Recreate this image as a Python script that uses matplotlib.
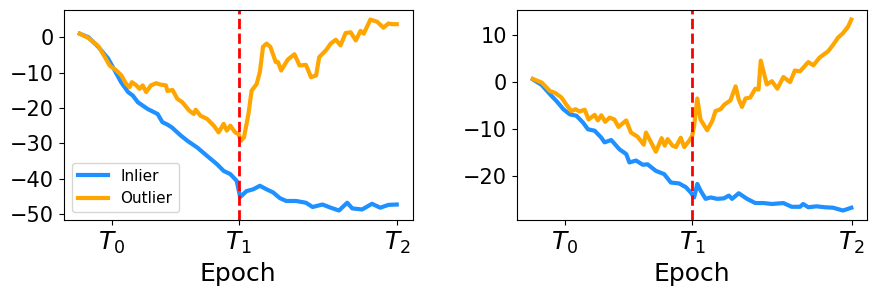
import matplotlib
matplotlib.use("Agg")
import matplotlib.pyplot as plt

# ---- Left panel data ----
left_inlier_x = [0, 2.7, 5.8, 8.9, 11, 13, 15.2, 16.7, 18.3, 21.4, 24.5, 26, 27.6, 29, 31.8, 33.9, 37, 40, 43.2,
                 45.3, 47.4, 49.4, 50.5, 52.5, 54.6, 56.7, 58.8, 60.9, 63, 65, 68.1, 71.2, 73.3, 76.4, 79, 81.6,
                 84.2, 85.8, 88.9, 92, 94.6, 97.2, 99.8]
left_inlier_y = [1.0, 0, -2.7, -6, -9.4, -12.7, -15.5, -16.5, -18.4, -20.3, -21.7, -24, -24.7, -25.5, -27.8, -29.3,
                 -31.2, -33.5, -35.9, -37.8, -38.7, -40.6, -45.2, -43.5, -43, -42, -43, -43.9, -45.5, -46.3, -46.3,
                 -46.8, -48, -47.3, -48.2, -49, -46.8, -48.4, -48.7, -47.1, -48.2, -47.4, -47.3]

left_outlier_x = [0, 2.7, 5.8, 7.9, 9.4, 11.5, 13.1, 14.6, 15.7, 16.4, 17.8, 18.8, 19.8, 20.9, 22.4, 24, 25.5, 27.1,
                  27.6, 29.2, 30.7, 32.3, 34.4, 35.9, 36.5, 38, 40.1, 42.2, 43.7, 45.3, 46.3, 47.4, 48.9, 50, 50.7,
                  51.7, 53.1, 54.1, 55.7, 56.7, 57.7, 58.8, 60, 61.7, 62.4, 63.4, 65.5, 67.6, 69.2, 71.2, 72.8,
                  74.4, 75.4, 77.5, 79, 80.6, 82.1, 83.7, 85.3, 86.9, 88.4, 89.4, 91.5, 93.6, 95.6, 97.2, 98.2, 99.8]
left_outlier_y = [1, -0.2, -2.5, -5.6, -8, -9.4, -10.8, -13.2, -14.1, -12.7, -13.6, -14.6, -13.6, -15.5, -13.6, -13,
                  -13.4, -13.6, -15.2, -14.9, -17.4, -18.4, -20.7, -21.7, -20.5, -22.2, -23.1, -25, -26.9, -24.5,
                  -26.4, -25, -26.9, -27.4, -29.3, -28.3, -21.7, -15.1, -13.2, -9.8, -2.7, -1.8, -2.7, -7, -7, -9.4,
                  -6.3, -4.8, -8, -7.8, -11.3, -10.8, -5.6, -3.7, -1.8, -0.7, -2.3, 1.2, 1.4, -0.9, 1.8, 1, 5, 4.4,
                  2.7, 3.9, 3.7, 3.7]

# ---- Right panel data ----
right_inlier_x = [0, 2.8, 5.4, 7.5, 9.6, 11.6, 13.7, 15.8, 17.3, 19.4, 21.5, 22.5, 24.6, 27.2, 29.3, 30.3, 32.4,
                  34.5, 36, 38.6, 41.2, 43.3, 45.9, 48, 49.5, 50.6, 51.6, 52.6, 54.2, 55.8, 57.8, 59.9, 61.5, 62.5,
                  64.6, 67.2, 69.8, 72.4, 75, 78.6, 81.2, 83.8, 84.8, 86.4, 89, 91.6, 94.2, 97.3, 99.9]
right_inlier_y = [0.6, -0.6, -2.6, -4.1, -5.8, -6.9, -7.2, -8.7, -10.1, -10.4, -11.9, -12.9, -12.4, -14.4, -15.4,
                  -17.2, -16.8, -17.7, -17.6, -19, -19.7, -21.5, -21.7, -22.5, -23.6, -24.7, -21.8, -23.2, -25,
                  -24.7, -25, -24.9, -24.3, -25, -23.8, -25, -25.9, -25.9, -26.1, -25.9, -26.7, -26.7, -26.1, -26.8,
                  -26.6, -26.8, -26.9, -27.5, -26.9]

right_outlier_x = [0, 2.8, 5.4, 7.0, 9, 10.6, 12.1, 13.4, 14.7, 16.3, 17.5, 19.4, 20.4, 21.5, 22.7, 24.1, 25.6,
                   26.9, 29.3, 30.8, 32.9, 34.8, 35.5, 37.1, 38.6, 40.4, 41.4, 42.3, 43.8, 44.9, 46.4, 47.5, 49, 50,
                   50.6, 51.6, 52.6, 54.7, 56.3, 57.3, 58.9, 60.1, 62, 63.6, 64.6, 65.6, 66.7, 68.2, 69.8, 70.8,
                   71.5, 73.4, 75, 76.7, 78.6, 80.7, 82.2, 83.8, 86.4, 88, 90, 92.6, 94.2, 95.7, 97.3, 98.9, 99.9]
right_outlier_y = [0.7, -0.1, -1.9, -2.3, -3.3, -4.9, -6.2, -5.8, -6.3, -5.9, -8, -7, -8.2, -7.1, -8.5, -7.6, -8,
                   -9.6, -8.2, -10.8, -11.7, -13.4, -10.8, -12.9, -14.9, -12, -13.6, -12.2, -13.6, -13.9, -11.9,
                   -13.9, -12.6, -11.5, -9.4, -3.5, -8, -10.3, -8.3, -6.2, -5.8, -4.8, -3.9, -0.9, -3.7, -5.3, -3.5,
                   -3.3, -1.4, -1.6, 4.6, -0.5, 0.2, -1.4, 1.1, 0, 2.5, 2.3, 4.3, 3.6, 5.3, 6.6, 8, 9.5, 10.5, 11.9,
                   13.4]

tick_positions = [10, 50, 100]
tick_labels = [r"$T_0$", r"$T_1$", r"$T_2$"]
switch_epoch = 50

fig = plt.figure(figsize=(8.76, 2.95), dpi=100)
ax1 = fig.add_axes([0.073, 0.254, 0.398, 0.712])
ax2 = fig.add_axes([0.590, 0.254, 0.400, 0.712])

blue = "#1E90FF"
orange = "#FFA500"

for ax, ix, iy, ox, oy in [(ax1, left_inlier_x, left_inlier_y, left_outlier_x, left_outlier_y),
                           (ax2, right_inlier_x, right_inlier_y, right_outlier_x, right_outlier_y)]:
    ax.plot(ix, iy, color=blue, lw=3, label="Inlier")
    ax.plot(ox, oy, color=orange, lw=3, label="Outlier")
    ax.axvline(switch_epoch, color="red", ls="--", lw=2)
    ax.set_xticks(tick_positions)
    ax.set_xticklabels(tick_labels, fontsize=18)
    ax.tick_params(axis="y", labelsize=15)
    ax.set_xlabel("Epoch", fontsize=18)

ax1.set_yticks([0, -10, -20, -30, -40, -50])
ax2.set_yticks([10, 0, -10, -20])
ax1.legend(loc="lower left", fontsize=11)

fig.savefig("out.png", dpi=100)
